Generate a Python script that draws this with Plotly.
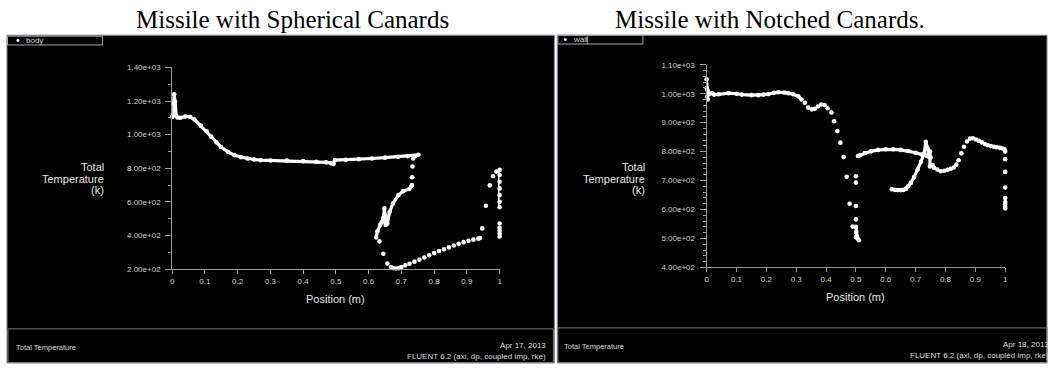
import plotly.graph_objects as go

W, H = 1049, 368

# ---------------- Missile with spherical canards ("body" wall) ----------------
# nose spike and forebody cooling, x = 0 .. 0.493 m
sph_fore_x = [0.0, 0.003, 0.006, 0.009, 0.012, 0.016, 0.025, 0.040, 0.055, 0.068, 0.088, 0.105,
              0.119, 0.135, 0.149, 0.170, 0.190, 0.210, 0.230, 0.250, 0.270, 0.300, 0.350, 0.400,
              0.440, 0.470, 0.485, 0.493]
sph_fore_t = [1105, 1190, 1240, 1195, 1112, 1102, 1100, 1108, 1105, 1090, 1052, 1020,
              988, 955, 926, 898, 878, 866, 858, 852, 848, 846, 845, 842,
              839, 835, 830, 826]
# afterbody, x = 0.497 .. 0.752 m
sph_aft_x = [0.497, 0.530, 0.570, 0.610, 0.650, 0.690, 0.720, 0.752]
sph_aft_t = [848, 850, 854, 858, 863, 868, 872, 880]
# sparse drop behind the canard
sph_drop_x = [0.742, 0.736, 0.734, 0.733, 0.732]
sph_drop_t = [872, 858, 810, 746, 698]
# canard surface, upper branch
sph_can_x = [0.732, 0.724, 0.706, 0.691, 0.674, 0.664, 0.657, 0.652, 0.650, 0.648, 0.645,
             0.640, 0.635, 0.627, 0.623]
sph_can_t = [698, 676, 664, 640, 590, 540, 470, 462, 520, 562, 505,
             478, 462, 425, 388]
# canard surface, lower branch and tail
sph_low_x = [0.633, 0.645, 0.657, 0.668, 0.676, 0.684, 0.692, 0.700, 0.712, 0.725, 0.740,
             0.755, 0.770, 0.785, 0.800, 0.815, 0.830, 0.845, 0.860, 0.875, 0.890, 0.905,
             0.920, 0.935, 0.940, 0.947, 0.958, 0.970, 0.980, 0.990]
sph_low_t = [365, 291, 233, 212, 205, 203, 205, 212, 222, 232, 244,
             256, 269, 282, 295, 307, 318, 329, 340, 350, 360, 368,
             375, 381, 385, 442, 577, 698, 752, 780]
# base at x = 1 m
sph_base_x = [1.0, 1.0, 1.0, 1.0, 1.0, 1.0, 1.0]
sph_base_t = [790, 760, 720, 680, 640, 600, 568]
sph_base2_x = [1.0, 1.0, 1.0, 1.0, 1.0]
sph_base2_t = [471, 446, 428, 410, 394]

sph_ytick_vals = [200, 400, 600, 800, 1000, 1200, 1400]
sph_ytick_text = ["2.00e+02", "4.00e+02", "6.00e+02", "8.00e+02", "1.00e+03", "1.20e+03", "1.40e+03"]

# ---------------- Missile with notched canards ("wall") ----------------
nch_nose_x = [0.0, 0.0, 0.002, 0.004]
nch_nose_t = [1050, 1020, 990, 980]
nch_fore_x = [0.003, 0.010, 0.018, 0.025, 0.040, 0.073, 0.100, 0.118, 0.150, 0.173, 0.190,
              0.207, 0.225, 0.240, 0.260, 0.273, 0.290, 0.307, 0.318]
nch_fore_t = [1012, 1000, 1002, 997, 998, 1002, 1000, 997, 995, 995, 997,
              999, 1003, 1005, 1004, 1002, 998, 991, 980]
nch_drop_x = [0.329, 0.340, 0.352, 0.362, 0.373, 0.384, 0.395, 0.405, 0.418, 0.427, 0.438,
              0.448, 0.459, 0.469, 0.479, 0.489, 0.500]
nch_drop_t = [969, 952, 946, 948, 956, 963, 961, 950, 935, 905, 871,
              831, 781, 713, 620, 541, 504]
nch_col_x = [0.500, 0.500, 0.500, 0.500]
nch_col_t = [715, 693, 612, 566]
nch_foot_x = [0.500, 0.501, 0.503, 0.506, 0.510]
nch_foot_t = [540, 522, 508, 500, 494]
nch_up_x = [0.507, 0.515, 0.530, 0.550, 0.575, 0.600, 0.625, 0.650, 0.675, 0.700, 0.720,
            0.740, 0.750]
nch_up_t = [785, 788, 795, 801, 806, 808, 808, 806, 802, 796, 790,
            784, 780]
nch_can_x = [0.620, 0.630, 0.640, 0.650, 0.660, 0.668, 0.675, 0.684, 0.695, 0.707, 0.718,
             0.729, 0.734, 0.740, 0.746, 0.748, 0.748, 0.752, 0.757]
nch_can_t = [670, 668, 667, 667, 668, 672, 680, 692, 712, 738, 765,
             794, 834, 811, 783, 800, 749, 752, 753]
nch_aft_x = [0.762, 0.773, 0.784, 0.796, 0.807, 0.818, 0.828, 0.836, 0.844, 0.853, 0.862,
             0.872, 0.882, 0.892, 0.902, 0.912, 0.922, 0.932, 0.942, 0.952, 0.962, 0.972,
             0.982, 0.992, 0.998]
nch_aft_t = [744, 738, 732, 734, 737, 741, 745, 755, 770, 794, 817,
             835, 845, 846, 842, 837, 832, 826, 822, 819, 817, 815,
             813, 811, 808]
nch_base_x = [1.0, 1.0, 1.0, 1.0, 1.0, 1.0, 1.0, 1.0, 1.0]
nch_base_t = [800, 774, 730, 676, 640, 626, 618, 610, 604]

nch_ytick_vals = [400, 500, 600, 700, 800, 900, 1000, 1100]
nch_ytick_text = ["4.00e+02", "5.00e+02", "6.00e+02", "7.00e+02", "8.00e+02", "9.00e+02",
                  "1.00e+03", "1.10e+03"]

xtick_vals = [0, 0.1, 0.2, 0.3, 0.4, 0.5, 0.6, 0.7, 0.8, 0.9, 1]
xtick_text = ["0", "0.1", "0.2", "0.3", "0.4", "0.5", "0.6", "0.7", "0.8", "0.9", "1"]

SANS = "Liberation Sans, Arial, sans-serif"
SERIF = "Liberation Serif, Times New Roman, serif"
AXC = "#9c9c9c"
TXC = "#cfcfcf"


def px_x(p):
    return p / W


def px_y(p):
    return 1 - p / H


fig = go.Figure()


def add(x, y, xa, ya, dense):
    fig.add_trace(go.Scatter(
        x=x, y=y, xaxis=xa, yaxis=ya,
        mode="lines+markers" if dense else "markers",
        line=dict(color="white", width=3.2),
        marker=dict(color="white", size=4.6, line=dict(width=0)),
        cliponaxis=False, showlegend=False, hoverinfo="skip"))


add(sph_fore_x, sph_fore_t, "x", "y", True)
add(sph_aft_x, sph_aft_t, "x", "y", True)
add(sph_drop_x, sph_drop_t, "x", "y", False)
add(sph_can_x, sph_can_t, "x", "y", True)
add(sph_low_x, sph_low_t, "x", "y", False)
add(sph_base_x, sph_base_t, "x", "y", True)
add(sph_base2_x[:1], sph_base2_t[:1], "x", "y", False)
add(sph_base2_x[1:], sph_base2_t[1:], "x", "y", True)

add(nch_nose_x, nch_nose_t, "x2", "y2", True)
add(nch_fore_x, nch_fore_t, "x2", "y2", True)
add(nch_drop_x, nch_drop_t, "x2", "y2", False)
add(nch_col_x, nch_col_t, "x2", "y2", False)
add(nch_foot_x, nch_foot_t, "x2", "y2", True)
add(nch_up_x, nch_up_t, "x2", "y2", True)
add(nch_can_x, nch_can_t, "x2", "y2", True)
add(nch_aft_x, nch_aft_t, "x2", "y2", False)
add(nch_base_x, nch_base_t, "x2", "y2", False)


def xaxis(domain, anchor):
    return dict(domain=domain, anchor=anchor, range=[0, 1], tickmode="array",
                tickvals=xtick_vals, ticktext=xtick_text, ticks="outside", ticklen=4,
                tickcolor=AXC, showline=True, linecolor=AXC, linewidth=1,
                showgrid=False, zeroline=False,
                tickfont=dict(family=SANS, size=8, color=TXC))


def yaxis(domain, anchor, rng, vals, text, minor_step):
    return dict(domain=domain, anchor=anchor, range=rng, tickmode="array",
                tickvals=vals, ticktext=text, ticks="outside", ticklen=6,
                tickcolor=AXC, showline=True, linecolor=AXC, linewidth=1,
                showgrid=False, zeroline=False, ticklabelstandoff=3,
                minor=dict(tickmode="linear", tick0=rng[0], dtick=minor_step,
                           ticks="outside", ticklen=3, tickcolor=AXC),
                tickfont=dict(family=SANS, size=8, color=TXC))


shapes = [
    # panels
    dict(type="rect", xref="paper", yref="paper", x0=px_x(5), x1=px_x(555),
         y0=px_y(368), y1=px_y(32), fillcolor="black", line=dict(color="#7f8a96", width=1),
         layer="below"),
    dict(type="rect", xref="paper", yref="paper", x0=px_x(558), x1=px_x(1050),
         y0=px_y(368), y1=px_y(32), fillcolor="black", line=dict(color="#7f8a96", width=1),
         layer="below"),
    # footer boxes
    dict(type="rect", xref="paper", yref="paper", x0=px_x(6), x1=px_x(554),
         y0=px_y(367.5), y1=px_y(333), line=dict(color="#7a7a7a", width=1), layer="above"),
    dict(type="rect", xref="paper", yref="paper", x0=px_x(558.5), x1=px_x(1050),
         y0=px_y(367.5), y1=px_y(332), line=dict(color="#7a7a7a", width=1), layer="above"),
    # legend boxes
    dict(type="rect", xref="paper", yref="paper", x0=px_x(5.5), x1=px_x(101),
         y0=px_y(42), y1=px_y(33), line=dict(color="#a8a8a8", width=1), layer="above"),
    dict(type="rect", xref="paper", yref="paper", x0=px_x(558.5), x1=px_x(644),
         y0=px_y(41), y1=px_y(32), line=dict(color="#a8a8a8", width=1), layer="above"),
    dict(type="line", xref="paper", yref="paper", x0=px_x(588), x1=px_x(588),
         y0=px_y(41), y1=px_y(32), line=dict(color="#a8a8a8", width=1), layer="above"),
    # legend symbols
    dict(type="circle", xref="paper", yref="paper", x0=px_x(14.5), x1=px_x(17.5),
         y0=px_y(39), y1=px_y(36), fillcolor="white", line=dict(width=0), layer="above"),
    dict(type="circle", xref="paper", yref="paper", x0=px_x(564.5), x1=px_x(567.5),
         y0=px_y(38), y1=px_y(35), fillcolor="white", line=dict(width=0), layer="above"),
]


def note(text, x, y, size, color, xanchor="center", family=SANS):
    return dict(text=text, xref="paper", yref="paper", x=px_x(x), y=px_y(y),
                xanchor=xanchor, yanchor="middle", showarrow=False,
                font=dict(family=family, size=size, color=color))


annotations = [
    note("Missile with Spherical Canards", 292, 16, 25, "black", family=SERIF),
    note("Missile with Notched Canards.", 772, 16, 25, "black", family=SERIF),
    # legend entries
    note("body", 22, 37, 8, "#d8d8d8", "left"),
    note("wall", 572, 36.5, 8, "#d8d8d8", "left"),
    # y titles
    note("Total", 104, 167, 11, "#e6e6e6", "right"),
    note("Temperature", 104, 179, 11, "#e6e6e6", "right"),
    note("(k)", 104, 191, 11, "#e6e6e6", "right"),
    note("Total", 648, 167, 11, "#e6e6e6", "right"),
    note("Temperature", 648, 179, 11, "#e6e6e6", "right"),
    note("(k)", 648, 191, 11, "#e6e6e6", "right"),
    # x titles
    note("Position (m)", 335, 302, 11, "#e6e6e6"),
    note("Position (m)", 858, 300, 11, "#e6e6e6"),
    # footers
    note("Total Temperature", 12, 352, 7.5, "#dcdcdc", "left"),
    note("Apr 17, 2013", 549, 350, 8, "#dcdcdc", "right"),
    note("FLUENT 6.2 (axi, dp, coupled imp, rke)", 549, 361, 8, "#dcdcdc", "right"),
    note("Total Temperature", 563, 351, 7.5, "#dcdcdc", "left"),
    note("Apr 18, 2013", 1054, 349, 8, "#dcdcdc", "right"),
    note("FLUENT 6.2 (axi, dp, coupled imp, rke)", 1054, 360, 8, "#dcdcdc", "right"),
]

fig.update_layout(
    width=W, height=H, margin=dict(l=0, r=0, t=0, b=0),
    paper_bgcolor="white", plot_bgcolor="rgba(0,0,0,0)",
    xaxis=xaxis([px_x(171), px_x(500)], "y"),
    yaxis=yaxis([px_y(271.7), px_y(65)], "x", [200, 1400], sph_ytick_vals, sph_ytick_text, 100),
    xaxis2=xaxis([px_x(708), px_x(1008)], "y2"),
    yaxis2=yaxis([px_y(270), px_y(62.3)], "x2", [400, 1100], nch_ytick_vals, nch_ytick_text, 20),
    shapes=shapes, annotations=annotations, showlegend=False,
)

fig.write_html("out.html")
